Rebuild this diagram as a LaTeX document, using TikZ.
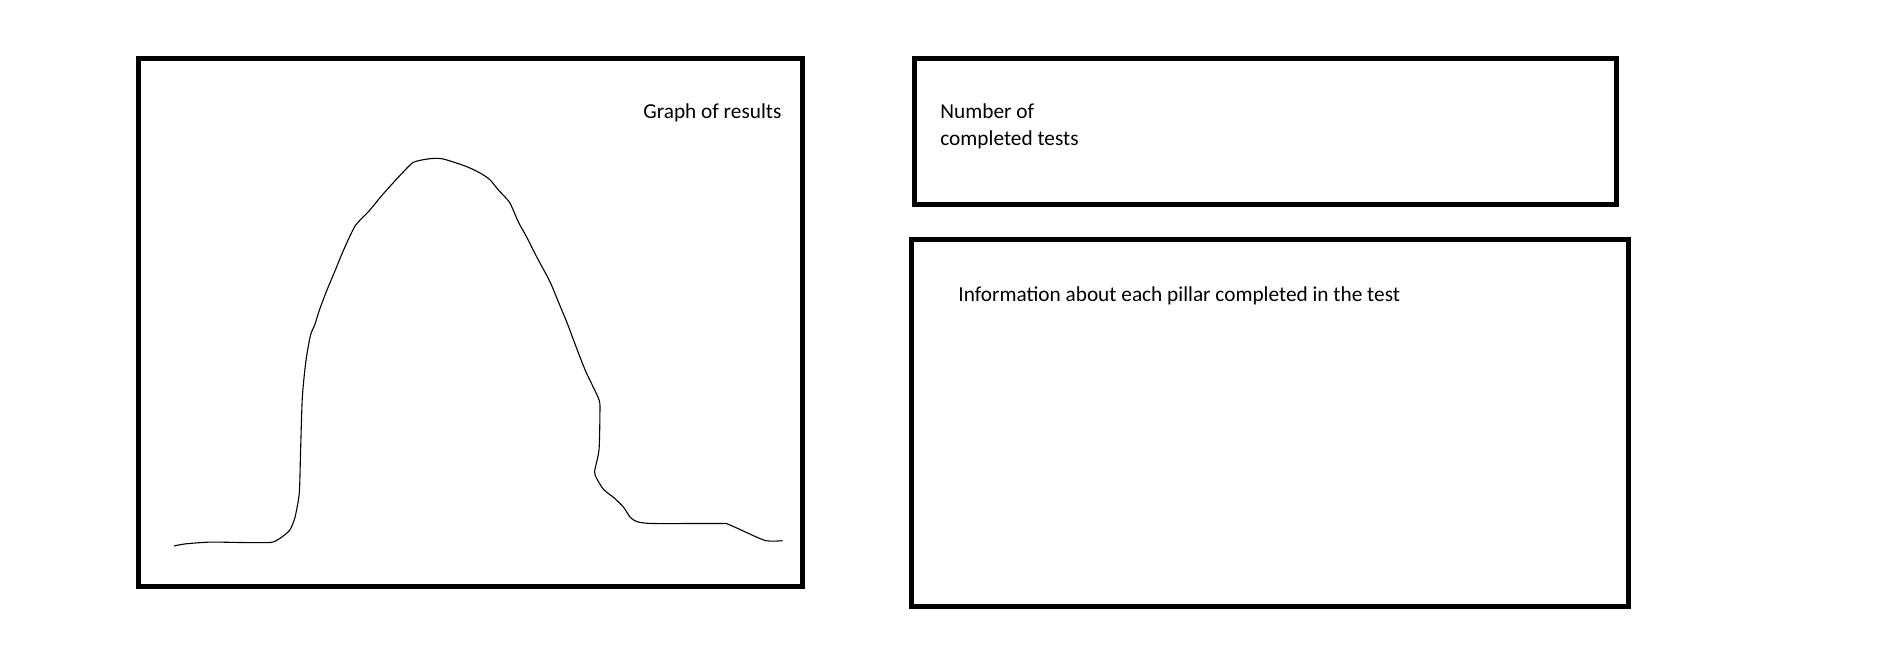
\documentclass[tikz,border=0pt]{standalone}
\usepackage{fontspec}
\setmainfont{Carlito}
\begin{document}
\begin{tikzpicture}[x=0.5pt,y=-0.5pt,
  panel/.style={draw=black, line width=2.5pt, minimum width=#1, inner sep=0pt, outer sep=0pt},
  lbl/.style={anchor=base west, inner sep=0pt, font=\fontsize{10.65}{13.2}\selectfont, align=left},
  curve/.style={draw=black, line width=0.55pt}]
\useasboundingbox (0,0) rectangle (1881,648);
\node[panel=332pt, minimum height=264pt] (graph) at (470,322) {};
\node[panel=351.3pt, minimum height=73pt] (count) at (1265.3,131) {};
\node[panel=358.5pt, minimum height=183.5pt] (info) at (1269.5,422.5) {};
\node[lbl] (graphlbl) at (643,118) {Graph of results};
\node[lbl] (countlbl) at (940,145) {Number of\\completed tests};
\node[lbl] (infolbl) at (958,301) {Information about each pillar completed in the test};
\draw[curve] plot[smooth, tension=0.4] coordinates {
(174,546.0) (185.2,543.9) (209.8,542.1) (241.1,542.5) (270.2,542.5) (279.1,538.9)
(289.4,530.6) (294.8,518.1) (299.3,493.0) (300.6,450.0) (302.4,396.2) (306.0,360.3)
(310.5,335.2) (314.9,324.4) (319.4,310.1) (326.1,292.2) (335.1,270.6) (344.0,249.1)
(355.2,225.8) (368.6,211.5) (382.0,195.3) (393.2,182.8) (402.2,173.1) (413.4,162.3)
(429.0,158.8) (442.4,158.8) (464.8,165.9) (478.2,172.0) (489.4,179.2) (498.4,190.0)
(509.6,202.5) (518.5,222.2) (527.4,238.4) (536.4,256.3) (549.8,281.4) (558.8,302.9)
(567.7,324.4) (574.4,342.4) (585.6,371.1) (599.0,399.7) (599.9,414.1) (599.0,450.0)
(594.6,471.5) (596.8,478.6) (603.5,489.4) (614.7,498.4) (623.6,507.3) (630.3,517.4)
(637.1,521.7) (652.7,523.5) (719.8,523.5) (728.8,524.5) (764.6,540.3) (782.5,540.6)};
\end{tikzpicture}
\end{document}
